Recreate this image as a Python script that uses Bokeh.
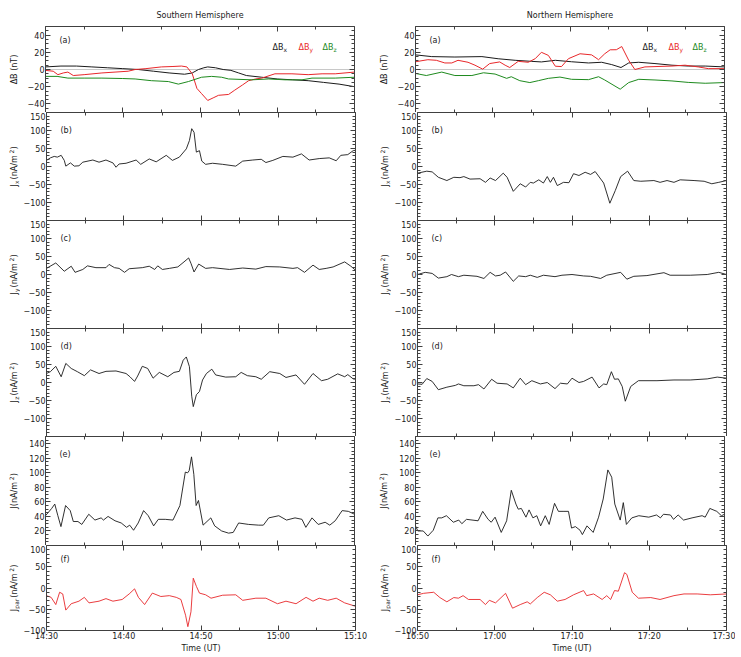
import math
from bokeh.plotting import figure
from bokeh.layouts import column, row
from bokeh.models import Label, Span, FixedTicker, LinearAxis, Range1d
from bokeh.embed import file_html
from bokeh.resources import INLINE

# ---------------- data (time in minutes after the start of each window) ----------------
TICK_MINUTES = [0, 10, 20, 30, 40]
MINOR_MINUTES = [5, 15, 25, 35]
S_TICK_LABELS = ["14:30", "14:40", "14:50", "15:00", "15:10"]
N_TICK_LABELS = ["16:50", "17:00", "17:10", "17:20", "17:30"]
TITLES = ["Southern Hemisphere", "Northern Hemisphere"]

# Southern hemisphere
s_dbx_t = [0, 2, 4, 6, 8, 10, 12, 14, 16, 18, 19, 19.8, 20.5, 21, 22, 23, 24, 25, 26, 28, 30, 32, 34, 36, 38, 40]
s_dbx = [3, 4, 4, 3, 2, 1, 0, -2, -4, -5.5, -4, 0, 2, 3, 2, 0, -1, -4, -7, -9, -11, -12, -13, -15, -17, -20]
s_dby_t = [0, 1, 1.6, 2.3, 2.9, 3.6, 5, 7.3, 9, 10.7, 11.6, 13, 15, 16.5, 17.6, 18.3, 19, 19.6, 20.2, 21, 21.7,
           22.4, 23.7, 24.5, 25.5, 26.3, 27.2, 28, 29.7, 31.9, 34, 35.8, 37.5, 40]
s_dby = [-1, -2, -6, -4, -3, -7, -6, -4, -3, -2, 0, 1, 3, 3.5, 4, 3, -5, -22, -28, -36, -33, -30, -29, -24, -18,
         -13, -11, -10, -5, -5, -6, -5, -5, -3]
s_dbz_t = [0, 1.5, 2.9, 5, 7.3, 10, 11.6, 13.7, 15.9, 17.2, 18.5, 20.2, 21.5, 22.8, 23.7, 26.7, 28.9, 31, 33.2,
           34.5, 37.5, 40]
s_dbz = [-8, -8, -10, -10, -10, -10.5, -11, -13, -14, -17, -14, -9, -8, -9, -11, -12, -11, -12, -12, -10, -10, -9]

s_jx_t = [0, 0.5, 1.0, 1.4, 1.9, 2.3, 2.5, 2.9, 3.1, 3.6, 4.2, 4.7, 6.0, 6.8, 7.7, 8.6, 9.0, 9.4, 10.3, 11.6, 12.2,
          13.3, 14.2, 15.5, 16.3, 17.2, 18.1, 18.5, 18.8, 19.1, 19.4, 19.8, 20.1, 20.6, 21.5, 22.8, 24.5, 25.4, 26.7,
          27.8, 28.4, 29.3, 30.6, 31.9, 33.0, 34.0, 35.3, 36.6, 37.5, 38.1, 39.0, 39.7, 40]
s_jx = [17, 24, 28, 26, 31, 17, 1, 7, 10, 1, 2, 12, 18, 12, 18, 10, -2, 7, 9, 18, 6, 21, 13, 31, 17, 26, 49, 72, 105,
        95, 40, 44, 15, 6, 9, 6, 1, 15, 18, 20, 11, 17, 28, 26, 35, 18, 22, 24, 16, 31, 33, 44, 45]

s_jy_t = [0, 1.2, 2.3, 3.2, 3.7, 4.7, 5.3, 6.4, 7.7, 8.1, 8.8, 9.4, 10.1, 10.7, 12.4, 13.3, 14.0, 14.4, 15.0, 15.9,
          17.0, 17.8, 18.4, 18.7, 19.1, 19.7, 20.6, 21.5, 23.7, 25.4, 27.1, 28.4, 30.2, 31.9, 32.5, 33.4, 34.5, 35.3,
          36.2, 37.1, 38.6, 39.4, 40]
s_jy = [17, 32, 9, 23, 6, 14, 24, 19, 19, 28, 19, 17, 6, 16, 19, 23, 14, 24, 14, 17, 21, 35, 46, 31, 7, 29, 17, 19,
        14, 18, 15, 22, 21, 17, 19, 6, 26, 14, 17, 21, 35, 23, 12]

s_jz_t = [0, 0.5, 1.2, 1.9, 2.5, 3.2, 4.0, 4.9, 5.7, 6.8, 7.7, 9.0, 10.3, 10.8, 11.4, 11.8, 12.4, 13.1, 13.8, 14.6,
          15.7, 16.5, 17.2, 17.7, 18.1, 18.5, 18.8, 19.0, 19.4, 19.8, 20.2, 20.7, 21.4, 21.9, 23.2, 24.5, 25.2, 26.0,
          27.1, 27.8, 28.9, 30.2, 31.0, 32.3, 33.4, 34.5, 35.6, 36.4, 37.7, 38.6, 39.0, 39.7, 40]
s_jz = [25, 30, 45, 16, 53, 39, 30, 19, 35, 25, 31, 32, 25, 16, 3, 18, 45, 39, 12, 28, 16, 28, 31, 62, 71, 44, -38,
        -67, -34, -25, 7, 25, 37, 21, 15, 16, 28, 19, 16, 9, 30, 25, 14, 21, -5, 25, 5, 9, 24, 16, 22, 10, 9]

s_j_t = [0, 0.8, 1.2, 1.6, 2.0, 2.6, 3.2, 3.6, 4.2, 4.7, 5.6, 6.4, 7.2, 7.5, 8.1, 9.0, 9.8, 10.5, 10.9, 11.4, 12.0,
         12.7, 13.3, 14.0, 14.6, 15.5, 16.5, 17.4, 18.1, 18.4, 18.6, 18.9, 19.2, 19.5, 19.8, 20.4, 21.4, 21.9, 22.8,
         23.7, 24.3, 25.0, 26.3, 27.6, 28.2, 28.9, 30.2, 31.2, 32.3, 33.2, 33.7, 34.5, 35.3, 36.2, 36.8, 37.5, 38.4,
         39.2, 40]
s_j = [41, 51, 57, 41, 26, 55, 48, 33, 33, 29, 43, 35, 38, 35, 40, 34, 31, 25, 28, 21, 31, 48, 41, 27, 36, 36, 35,
       55, 101, 100, 103, 122, 98, 55, 62, 28, 38, 27, 20, 17, 18, 31, 29, 28, 28, 38, 41, 35, 38, 36, 25, 38, 29,
       32, 28, 34, 48, 47, 43]

s_jpar_t = [0, 0.6, 1.2, 1.7, 2.1, 2.5, 3.2, 4.2, 4.9, 5.5, 6.8, 7.7, 8.6, 9.8, 10.7, 11.4, 11.9, 12.7, 13.7, 14.8,
            15.9, 16.8, 17.4, 18.0, 18.3, 18.7, 19.0, 19.4, 19.8, 20.6, 21.3, 22.8, 24.5, 25.4, 27.1, 28.4, 29.9,
            31.0, 32.3, 33.6, 34.5, 35.3, 36.4, 37.5, 38.6, 40]
s_jpar = [-18, -22, -39, -10, -14, -52, -37, -31, -22, -35, -31, -25, -31, -27, -14, -2, -22, -39, -12, -20, -18,
          -22, -27, -64, -91, -56, 23, 4, -12, -16, -24, -17, -16, -29, -24, -24, -37, -31, -37, -22, -31, -24, -29,
          -24, -35, -43]

# Northern hemisphere
n_dbx_t = [0, 2.1, 5.1, 8.6, 10.7, 12.9, 15, 16.3, 18.1, 20.2, 22.4, 24.1, 25.4, 26.6, 27.6, 28.9, 31, 33.2, 35.3,
           37.5, 40]
n_dbx = [17, 15, 14.5, 15, 12.5, 10.7, 9.5, 8.8, 10.7, 9, 7.6, 8.4, 5.7, 2.3, 7.6, 8.4, 6.9, 5, 4, 4, 3]
n_dby_t = [0, 1.6, 2.7, 3.8, 4.7, 5.5, 6.8, 7.7, 8.7, 9.6, 10.9, 11.6, 12.2, 13.3, 14.6, 15.5, 16.3, 17.2, 18.1,
           18.9, 19.8, 21.3, 22.8, 23.7, 24.5, 25.2, 26, 26.7, 27.6, 28.4, 29.7, 33.2, 34.9, 36.6, 37.9, 40]
n_dby = [9, 11.4, 10.7, 7.6, 7.6, 10.7, 8.4, 5, 0.4, 6.9, 8.8, 5, 2.3, 9.5, 8.4, 12.6, 20, 16.4, 3.8, 3.4, 12.6,
         18.3, 17, 11.4, 18.3, 22.9, 23, 26.7, 10.7, 0, 3, 4, 5, 3, 1, 1]
n_dbz_t = [0, 1.4, 3.4, 5.1, 7.3, 8.8, 10.3, 11.8, 12.4, 13.5, 14.8, 15.9, 17.2, 18.7, 20.2, 22.4, 23.7, 24.5, 26.5,
           27.6, 28.9, 31, 33.2, 35.3, 37.5, 40]
n_dbz = [-4.6, -7, -3, -7, -7, -3.8, -5.3, -10.3, -8.4, -13, -15.2, -13, -10.3, -8.8, -11.4, -11.8, -8.4, -12.2,
         -22.9, -15.2, -11.4, -12.2, -13.3, -15, -16, -15.2]

n_jx_t = [0, 1.2, 1.9, 2.7, 3.8, 4.7, 5.5, 6.0, 6.8, 8.1, 8.8, 9.4, 10.1, 11.1, 11.6, 12.4, 13.3, 14.0, 14.6, 15.0,
          15.7, 16.3, 16.8, 17.2, 17.6, 18.1, 18.9, 19.6, 20.2, 20.9, 21.7, 22.4, 23.0, 24.1, 24.9, 25.6, 26.3, 27.2,
          28.0, 28.9, 30.6, 31.4, 32.3, 33.2, 34.0, 35.8, 37.1, 38.1, 39.0, 40]
n_jx = [-18.5, -13, -15, -30, -39, -30, -31, -28, -35, -34, -44, -32, -39, -18.5, -30, -69, -48, -57, -44, -46, -37,
        -46, -28, -44, -30, -53, -44, -45, -20, -25, -16, -22, -14, -46, -102, -67, -28, -13, -39, -41, -39, -44,
        -39, -44, -37, -39, -41, -48, -44, -39]

n_jy_t = [0, 1.0, 1.9, 2.7, 3.8, 4.4, 5.3, 6.0, 7.7, 8.6, 9.4, 10.1, 10.7, 11.4, 12.4, 13.1, 14.0, 14.6, 15.5, 16.3,
          17.8, 18.7, 20.0, 21.5, 22.4, 23.7, 24.5, 26.3, 27.1, 28.0, 29.7, 31.9, 32.7, 35.3, 37.5, 39.0, 40]
n_jy = [0, 6, 3, -10, -6, 0, -6, -2, -5, -11, 6, -4, -2, 7, -19, -4, -6, -2, -8, -2, -6, -2, 0, -4, -5, -11, -2, 6,
        -13, -5, -3, 5, -2, -2, 0, 6, 0]

n_jz_t = [0, 0.6, 1.2, 1.9, 2.7, 3.8, 4.9, 5.3, 6.0, 7.3, 7.9, 8.6, 9.6, 10.3, 11.6, 12.4, 13.3, 14.0, 14.8, 15.9,
          16.8, 17.8, 18.5, 19.4, 20.0, 20.9, 21.5, 22.6, 23.5, 24.1, 24.5, 25.1, 25.5, 26.0, 26.5, 26.9, 27.6, 28.6,
          31.0, 33.2, 35.3, 37.5, 38.8, 40]
n_jz = [-4, -5, 11, 3, -20, -13, -8, -4, -9, -9, -6, -18, 9, -2, -4, -15, 12, -6, 5, -4, 0, -17, -2, -4, 12, 0, 3,
        15, -15, -4, -6, 30, 9, 10, -11, -52, -11, 5, 5, 7, 7, 10, 15, 12]

n_j_t = [0, 0.3, 1.0, 1.6, 2.3, 2.9, 3.4, 4.0, 4.9, 5.6, 6.0, 6.6, 8.1, 8.7, 9.4, 9.8, 10.3, 11.1, 11.8, 12.4, 13.0,
         13.3, 13.7, 14.3, 14.7, 15.2, 15.7, 16.2, 16.8, 17.3, 18.0, 18.5, 19.1, 19.8, 20.2, 20.7, 21.3, 21.6, 22.2,
         23.0, 23.7, 24.3, 24.9, 25.4, 25.8, 26.5, 26.9, 27.3, 28.0, 28.9, 30.2, 31.2, 31.7, 32.1, 33.0, 33.4, 34.0,
         34.7, 35.8, 37.1, 37.5, 38.1, 39.0, 39.6, 40]
n_j = [27, 20, 20, 13, 21, 38, 38, 41, 32, 35, 30, 36, 34, 47, 36, 32, 39, 18, 34, 76, 57, 50, 51, 39, 49, 38, 41,
       27, 41, 29, 58, 47, 47, 47, 24, 26, 21, 15, 27, 18, 39, 64, 104, 94, 57, 35, 59, 29, 38, 41, 39, 42, 38, 43,
       42, 36, 42, 35, 38, 41, 39, 51, 47, 41, 43]

n_jpar_t = [0, 0.8, 2.1, 2.9, 3.8, 4.7, 5.3, 5.9, 6.6, 8.1, 8.8, 9.3, 10.1, 11.4, 12.3, 13.3, 14.2, 14.6, 15.5, 16.4,
            17.2, 18.1, 19.1, 20.2, 21.5, 21.9, 22.8, 23.9, 24.5, 25.0, 25.5, 26.0, 26.8, 27.1, 27.8, 28.6, 30.2,
            31.4, 33.2, 34.5, 36.2, 37.9, 40]
n_jpar = [-16, -12.5, -10, -22.5, -32.5, -22.5, -24, -18, -27, -27, -39, -29, -35, -12.5, -47.5, -39, -32.5, -37.5,
          -22.5, -10, -16, -31, -27, -16, -6, -18, -14, -27, -18, -27, -6, -7.5, 36, 32, -10, -24, -22.5, -27, -18,
          -14, -14, -16, -14]

# ---------------- styling ----------------
FONT = "DejaVu Sans"
AXC = "#404040"
TXT = "#1a1a1a"
BLACK = "#1a1a1a"
RED = "#e8272a"
GREEN = "#1e8a1e"

CW = {'J': 0.295, 'x': 0.592, 'y': 0.592, 'z': 0.525, ' ': 0.318, '(': 0.390, ')': 0.390, 'n': 0.634,
      'A': 0.684, '/': 0.337, 'm': 0.974, '2': 0.636, 'Δ': 0.684, 'B': 0.686, 'T': 0.611, 'p': 0.635,
      'a': 0.613, 'r': 0.411}

TOP_BORDER = 26
BOTTOM_BORDER = 25
FW = 309
LAB_W = 20          # width of the strip that carries the rotated y titles
PAN_LEFT = 25       # room for the tick labels
COL_RIGHT = [16, 9]
LAB_X = 14          # baseline of the rotated title inside its strip


def tw(s, size):
    return sum(CW.get(c, 0.6) for c in s) * size


def rng(a, b, step, skip):
    out = []
    v = a
    while v <= b + 1e-9:
        if v not in skip:
            out.append(v)
        v += step
    return out


def style_axis(ax, show):
    ax.axis_line_color = AXC
    ax.axis_line_width = 1
    ax.major_tick_line_color = AXC
    ax.minor_tick_line_color = AXC
    ax.major_tick_in = 5
    ax.major_tick_out = 0
    ax.minor_tick_in = 3
    ax.minor_tick_out = 0
    ax.major_label_text_font = FONT
    ax.major_label_text_color = TXT
    if show:
        ax.major_label_text_font_size = "8px"
        ax.major_label_standoff = 1
    else:
        ax.major_label_text_font_size = "0px"
        ax.major_label_standoff = 0


def vlabel(p, parts, cx, cy):
    # parts: (text, font px, baseline shift, extra gap after)
    total = sum(tw(t, s) + g for t, s, _, g in parts)
    y = cy - total / 2.0
    for t, s, shift, g in parts:
        p.add_layout(Label(x=cx - shift, y=y, x_units="screen", y_units="screen", text=t,
                           angle=math.pi / 2, text_font=FONT, text_font_size=f"{s}px",
                           text_align="left", text_baseline="alphabetic", text_color=TXT))
        y += tw(t, s) + g


def hlabel(p, parts, x, y, color):
    for t, s, shift in parts:
        p.add_layout(Label(x=x, y=y + shift, x_units="screen", y_units="screen", text=t,
                           text_font=FONT, text_font_size=f"{s}px", text_align="left",
                           text_baseline="alphabetic", text_color=color))
        x += tw(t, s)


def jlab(sub):
    parts = [("J", 8, 0, 0.3)]
    if sub:
        parts.append((sub, 6, -1.5, 1.0))
    parts += [(" (nA/m", 8, 0, -0.8), ("2", 6, 3, 0.2), (")", 8, 0, 0)]
    return parts


PANELS = [
    dict(letter="(a)", yr=(-50, 50), ticks=[-40, -20, 0, 20, 40], minor_step=5, hide=[], fh=86,
         ylab=[("ΔB (nT)", 8, 0, 0)]),
    dict(letter="(b)", yr=(-150, 150), ticks=rng(-150, 150, 50, []), minor_step=10, hide=[-150], fh=108,
         ylab=jlab("x")),
    dict(letter="(c)", yr=(-150, 150), ticks=rng(-150, 150, 50, []), minor_step=10, hide=[-150], fh=108,
         ylab=jlab("y")),
    dict(letter="(d)", yr=(-150, 150), ticks=rng(-150, 150, 50, []), minor_step=10, hide=[-150], fh=108,
         ylab=jlab("z")),
    dict(letter="(e)", yr=(0, 150), ticks=rng(0, 140, 20, []), minor_step=5, hide=[0], fh=109,
         ylab=jlab("")),
    dict(letter="(f)", yr=(-100, 100), ticks=rng(-100, 100, 50, []), minor_step=10, hide=[], fh=85,
         ylab=jlab("par")),
]

COLUMNS = [
    dict(title=TITLES[0], ticklabels=S_TICK_LABELS, mbr=COL_RIGHT[0],
         db=[(s_dbx_t, s_dbx, BLACK), (s_dby_t, s_dby, RED), (s_dbz_t, s_dbz, GREEN)],
         series=[(s_jx_t, s_jx, BLACK), (s_jy_t, s_jy, BLACK), (s_jz_t, s_jz, BLACK),
                 (s_j_t, s_j, BLACK), (s_jpar_t, s_jpar, RED)]),
    dict(title=TITLES[1], ticklabels=N_TICK_LABELS, mbr=COL_RIGHT[1],
         db=[(n_dbx_t, n_dbx, BLACK), (n_dby_t, n_dby, RED), (n_dbz_t, n_dbz, GREEN)],
         series=[(n_jx_t, n_jx, BLACK), (n_jy_t, n_jy, BLACK), (n_jz_t, n_jz, BLACK),
                 (n_j_t, n_j, BLACK), (n_jpar_t, n_jpar, RED)]),
]


def label_strip(spec, first, last):
    q = figure(frame_width=LAB_W, frame_height=spec["fh"], x_range=Range1d(0, 1), y_range=Range1d(0, 1),
               output_backend="svg", toolbar_location=None, x_axis_type=None, y_axis_type=None,
               min_border_left=0, min_border_right=0,
               min_border_top=TOP_BORDER if first else 0, min_border_bottom=BOTTOM_BORDER if last else 0,
               outline_line_color=None, background_fill_color="white", border_fill_color="white")
    vlabel(q, spec["ylab"], LAB_X, spec["fh"] / 2.0)
    return q


def panel(col, i, spec):
    first = i == 0
    last = i == len(PANELS) - 1
    lo, hi = spec["yr"]
    p = figure(frame_width=FW, frame_height=spec["fh"], x_range=Range1d(0, 40), y_range=Range1d(lo, hi),
               output_backend="svg", toolbar_location=None, x_axis_type=None, y_axis_type=None,
               min_border_left=PAN_LEFT, min_border_right=col["mbr"],
               min_border_top=TOP_BORDER if first else 0, min_border_bottom=BOTTOM_BORDER if last else 0,
               outline_line_color=None, background_fill_color="white", border_fill_color="white")
    yminor = [v for v in rng(lo, hi, spec["minor_step"], []) if v not in spec["ticks"]]
    for loc in ("left", "right"):
        ax = LinearAxis(ticker=FixedTicker(ticks=spec["ticks"], minor_ticks=yminor))
        style_axis(ax, loc == "left")
        if loc == "left" and spec["hide"]:
            ax.major_label_overrides = {h: "" for h in spec["hide"]}
        p.add_layout(ax, loc)
    for loc in ("above", "below"):
        ax = LinearAxis(ticker=FixedTicker(ticks=TICK_MINUTES, minor_ticks=MINOR_MINUTES))
        show = loc == "below" and last
        style_axis(ax, show)
        if show:
            ax.major_label_overrides = dict(zip(TICK_MINUTES, col["ticklabels"]))
            ax.axis_label = "Time (UT)"
            ax.axis_label_standoff = 0
        if loc == "above" and first:
            ax.axis_label = col["title"]
            ax.axis_label_standoff = 7
        if ax.axis_label:
            ax.axis_label_text_font = FONT
            ax.axis_label_text_font_size = "8px"
            ax.axis_label_text_font_style = "normal"
            ax.axis_label_text_color = TXT
        p.add_layout(ax, loc)

    if first:
        p.add_layout(Span(location=0, dimension="width", line_color="#c8c8c8", line_width=1,
                          level="underlay"))
        for t, v, c in col["db"]:
            p.line(t, v, line_color=c, line_width=1.0, line_join="round")
        for (name, c), x0 in zip([("x", BLACK), ("y", RED), ("z", GREEN)], [227, 253, 277]):
            hlabel(p, [("ΔB", 8, 0), (name, 6, -2)], x0, spec["fh"] - 21, c)
    else:
        t, v, c = col["series"][i - 1]
        p.line(t, v, line_color=c, line_width=0.9, line_join="round")

    p.add_layout(Label(x=14, y=spec["fh"] - (14 if (first or last) else 18), x_units="screen",
                       y_units="screen", text=spec["letter"], text_font=FONT, text_font_size="8px",
                       text_baseline="middle", text_color=TXT))
    return p


rows = []
for i, spec in enumerate(PANELS):
    first = i == 0
    last = i == len(PANELS) - 1
    kids = []
    for col in COLUMNS:
        kids.append(label_strip(spec, first, last))
        kids.append(panel(col, i, spec))
    rows.append(row(kids, spacing=0))

layout = column(rows, spacing=0)
open("out.html", "w").write(file_html(layout, INLINE))
